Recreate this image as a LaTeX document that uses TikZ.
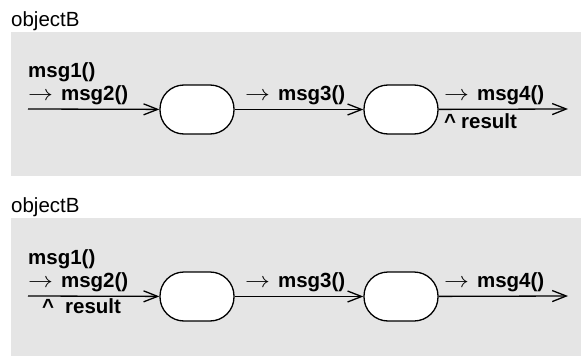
\documentclass[tikz,border=0pt]{standalone}
\usepackage{fontspec}
\setmainfont{Liberation Sans}
\usetikzlibrary{arrows.meta}

\definecolor{panelgray}{RGB}{229,229,229}

% send marker in front of a message name
\newcommand{\sendto}{\scalebox{1.2}[1.05]{$\rightarrow$}\hspace{8pt}}

\tikzset{
	state/.style = {draw, fill = white, line width = 1.3pt, rounded corners = 24pt,
		minimum width = 74pt, minimum height = 49pt, inner sep = 0pt},
	msg/.style = {line width = 1.3pt, -{Straight Barb[length = 14pt, width = 11pt, line width = 1.3pt]}},
	lbl/.style = {anchor = base west, inner sep = 0pt, font = \fontsize{20.5}{20.5}\selectfont\bfseries},
	title/.style = {anchor = base west, inner sep = 0pt, font = \fontsize{20.5}{20.5}\selectfont}
}

\begin{document}
\begin{tikzpicture}[x = 1pt, y = -1pt]
	\useasboundingbox (0,0) rectangle (581,356);

	% upper object: result returned with msg4
	\fill [panelgray] (11,32) rectangle (581,176);
	\node [title] (name1) at (11,26) {objectB};
	\coordinate (in1) at (28,109);
	\node [state] (a1) at (197,109.5) {};
	\node [state] (b1) at (401,109.5) {};
	\coordinate (out1) at (568,109);
	\draw [msg] (in1) -- (a1);
	\draw [msg] (a1) -- (b1);
	\draw [msg] (b1) -- (out1);
	\node [lbl] (m11) at (28,77) {msg1()};
	\node [lbl] (m12) at (28,100) {\sendto msg2()};
	\node [lbl] (m13) at (245,100) {\sendto msg3()};
	\node [lbl] (m14) at (444,100) {\sendto msg4()};
	\node [lbl] (r1) at (444,128) {\textasciicircum\hspace{5pt}result};

	% lower object: result returned with msg2
	\fill [panelgray] (11,218) rectangle (581,356);
	\node [title] (name2) at (11,212) {objectB};
	\coordinate (in2) at (28,296);
	\node [state] (a2) at (197,296.5) {};
	\node [state] (b2) at (401,296.5) {};
	\coordinate (out2) at (568,296);
	\draw [msg] (in2) -- (a2);
	\draw [msg] (a2) -- (b2);
	\draw [msg] (b2) -- (out2);
	\node [lbl] (m21) at (28,264) {msg1()};
	\node [lbl] (m22) at (28,287) {\sendto msg2()};
	\node [lbl] (m23) at (245,287) {\sendto msg3()};
	\node [lbl] (m24) at (444,287) {\sendto msg4()};
	\node [lbl] (r2) at (42,313) {\textasciicircum\hspace{11pt}result};
\end{tikzpicture}
\end{document}
